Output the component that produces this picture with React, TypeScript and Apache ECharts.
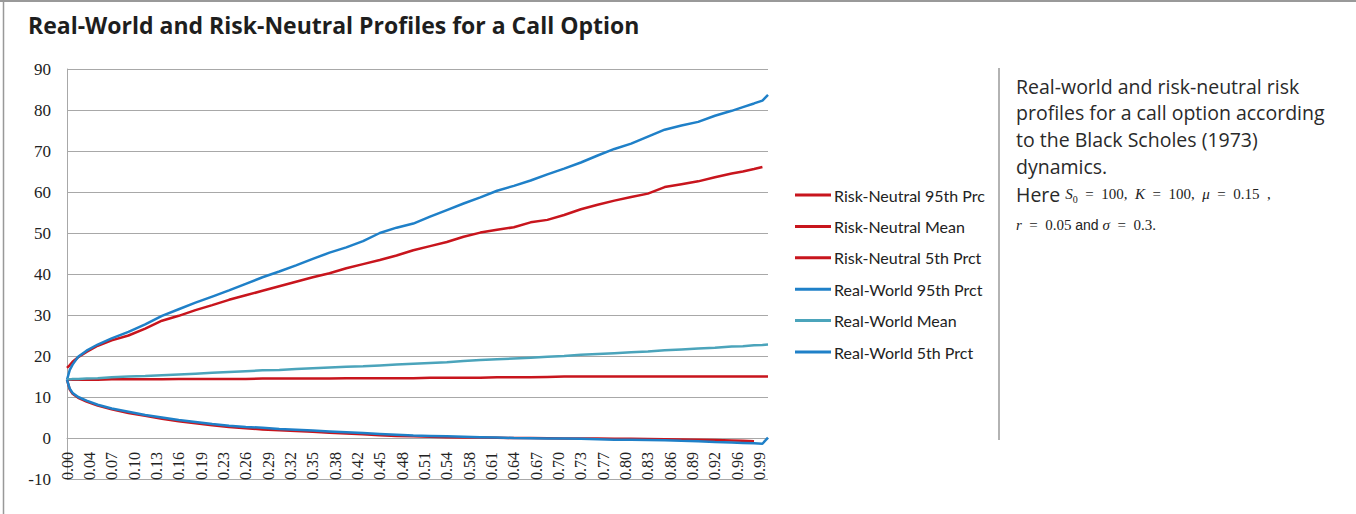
import React, { useEffect, useRef } from "react";
import * as echarts from "echarts";

// Time grid: one category per trading day over a one-year horizon
const TRADING_DAYS = 252;
const TIME_CATEGORIES: string[] = Array.from({ length: TRADING_DAYS }, (_, i) =>
  ((i + 1) / TRADING_DAYS).toFixed(2)
);

// Sampled day indices (into TIME_CATEGORIES) for the profiles below
const STEPS = [
  0, 1, 2, 4, 7, 11, 16, 22, 28, 34, 40, 46, 52, 58, 64, 70, 76, 82, 88, 94, 100, 106, 112, 118,
  124, 130, 136, 142, 148, 154, 160, 166, 172, 178, 184, 190, 196, 202, 208, 214, 220, 226, 232,
  238, 242, 246, 249, 251,
];

const RN_95: (number | null)[] = [
  17.1, 17.8, 18.6, 19.7, 21.0, 22.5, 23.8, 25.0, 26.7, 28.6, 29.8, 31.2, 32.4, 33.7, 34.8, 35.9,
  37.0, 38.1, 39.2, 40.2, 41.4, 42.4, 43.4, 44.5, 45.8, 46.8, 47.8, 49.1, 50.1, 50.8, 51.4, 52.6,
  53.2, 54.4, 55.8, 56.9, 57.9, 58.8, 59.6, 61.2, 61.9, 62.6, 63.6, 64.5, 65.0, 65.6, 66.1, null,
];
const RN_MEAN: (number | null)[] = [
  14.2, 14.2, 14.2, 14.2, 14.2, 14.2, 14.3, 14.3, 14.3, 14.3, 14.4, 14.4, 14.4, 14.4, 14.4, 14.5,
  14.5, 14.5, 14.5, 14.5, 14.6, 14.6, 14.6, 14.6, 14.6, 14.7, 14.7, 14.7, 14.7, 14.8, 14.8, 14.8,
  14.9, 15.0, 15.0, 15.0, 15.0, 15.0, 15.0, 15.0, 15.0, 15.0, 15.0, 15.0, 15.0, 15.0, 15.0, 15.0,
];
const RN_5: (number | null)[] = [
  14.2, 11.8, 10.8, 9.8, 8.9, 7.9, 7.0, 6.1, 5.4, 4.7, 4.1, 3.6, 3.1, 2.7, 2.4, 2.1, 1.9, 1.7, 1.5,
  1.3, 1.1, 0.9, 0.7, 0.5, 0.4, 0.3, 0.2, 0.15, 0.1, 0.05, 0.0, 0.0, -0.05, -0.1, -0.1, -0.15,
  -0.2, -0.2, -0.25, -0.3, -0.35, -0.4, -0.5, -0.6, -0.7, -0.8, null, null,
];
const RW_95: (number | null)[] = [
  14.2, 16.6, 17.9, 19.8, 21.3, 22.8, 24.3, 25.9, 27.7, 29.8, 31.4, 33.0, 34.5, 36.0, 37.6, 39.2,
  40.6, 42.1, 43.7, 45.2, 46.5, 48.0, 50.0, 51.3, 52.3, 54.0, 55.6, 57.2, 58.7, 60.3, 61.5, 62.8,
  64.3, 65.7, 67.2, 68.9, 70.5, 71.8, 73.5, 75.2, 76.2, 77.1, 78.6, 79.8, 80.7, 81.6, 82.3, 83.7,
];
const RW_MEAN: (number | null)[] = [
  14.3, 14.3, 14.4, 14.4, 14.5, 14.6, 14.8, 15.0, 15.1, 15.3, 15.5, 15.7, 15.9, 16.1, 16.3, 16.5,
  16.6, 16.8, 17.0, 17.2, 17.4, 17.5, 17.7, 17.9, 18.1, 18.3, 18.5, 18.8, 19.0, 19.2, 19.4, 19.6,
  19.8, 20.0, 20.3, 20.5, 20.7, 20.9, 21.1, 21.4, 21.6, 21.8, 22.0, 22.3, 22.4, 22.6, 22.7, 22.8,
];
const RW_5: (number | null)[] = [
  14.2, 12.0, 11.0, 10.0, 9.1, 8.1, 7.2, 6.4, 5.6, 5.0, 4.4, 3.9, 3.4, 3.0, 2.7, 2.5, 2.2, 2.0,
  1.8, 1.6, 1.4, 1.2, 1.0, 0.8, 0.6, 0.5, 0.4, 0.3, 0.2, 0.1, 0.0, -0.05, -0.1, -0.15, -0.2, -0.3,
  -0.4, -0.45, -0.5, -0.55, -0.7, -0.8, -1.0, -1.1, -1.2, -1.3, -1.4, 0.1,
];

const SERIES_NAMES = [
  "Risk-Neutral 95th Prc",
  "Risk-Neutral Mean",
  "Risk-Neutral 5th Prct",
  "Real-World 95th Prct",
  "Real-World Mean",
  "Real-World 5th Prct",
];

const Y_MIN = -10;
const Y_MAX = 90;
const Y_STEP = 10;

const TITLE = "Real-World and Risk-Neutral Profiles for a Call Option";
const NOTE_LINES = [
  "Real-world and risk-neutral risk",
  "profiles for a call option according",
  "to the Black Scholes (1973)",
  "dynamics.",
];

const RED = "#c8151d";
const BLUE = "#1f80c8";
const TEAL = "#4ba4bb";
const GRID_GRAY = "#a8a8a8";
const TEXT = "#222222";

const toPoints = (vals: (number | null)[]) =>
  STEPS.flatMap((s, k) => (vals[k] == null ? [] : [[s, vals[k] as number]]));

export default function App() {
  const ref = useRef<HTMLDivElement>(null);

  useEffect(() => {
    if (!ref.current) return;
    const chart = echarts.init(ref.current, undefined, { renderer: "svg" });

    const seriesData = [RN_95, RN_MEAN, RN_5, RW_95, RW_MEAN, RW_5];
    const colors = [RED, RED, RED, BLUE, TEAL, BLUE];

    const serif = "'Liberation Serif', 'DejaVu Serif', serif";
    const sans = "'Open Sans', Roboto, sans-serif";

    const noteTexts = NOTE_LINES.map((line, i) => ({
      type: "text",
      x: 1016,
      y: 86 + i * 26.8,
      style: { text: line, font: `19.5px ${sans}`, fill: "#2a2a2a", verticalAlign: "middle" },
    }));

    chart.setOption({
      animation: false,
      backgroundColor: "#ffffff",
      title: {
        text: TITLE,
        left: 23,
        top: 8,
        textStyle: { fontFamily: sans, fontWeight: "bold", fontSize: 23, color: "#1e1e1e" },
      },
      grid: { left: 67, top: 69, width: 701, height: 410, containLabel: false },
      legend: {
        orient: "vertical",
        left: 795,
        top: 187,
        padding: 0,
        icon: "rect",
        itemWidth: 36,
        itemHeight: 3,
        itemGap: 15.4,
        data: SERIES_NAMES,
        selectedMode: false,
        textStyle: {
          fontFamily: "Lato, 'Noto Sans', sans-serif",
          fontSize: 16,
          color: TEXT,
          lineHeight: 16,
          padding: [0, 0, 0, -2],
        },
      },
      xAxis: {
        type: "category",
        data: TIME_CATEGORIES,
        boundaryGap: false,
        // the category axis sits on the zero line, 10 units above the plot floor
        offset: -41,
        axisLine: { onZero: false, lineStyle: { color: GRID_GRAY, width: 1 } },
        axisTick: { show: false },
        axisLabel: {
          interval: 7,
          rotate: 90,
          margin: 14,
          fontFamily: serif,
          fontSize: 16,
          color: TEXT,
        },
        splitLine: { show: false },
      },
      yAxis: {
        type: "value",
        min: Y_MIN,
        max: Y_MAX,
        interval: Y_STEP,
        axisLine: { show: true, lineStyle: { color: GRID_GRAY, width: 1 } },
        axisTick: { show: false },
        axisLabel: { margin: 16, fontFamily: serif, fontSize: 17, color: TEXT },
        splitLine: { show: true, lineStyle: { color: GRID_GRAY, width: 1 } },
      },
      series: SERIES_NAMES.map((name, i) => ({
        name,
        type: "line",
        data: toPoints(seriesData[i]),
        showSymbol: false,
        symbol: "none",
        color: colors[i],
        itemStyle: { color: colors[i] },
        lineStyle: { color: colors[i], width: 2.5 },
        emphasis: { disabled: true },
      })),
      graphic: [
        // outer frame (top and left edges)
        { type: "line", shape: { x1: 0, y1: 1, x2: 1356, y2: 1 }, style: { stroke: "#999", lineWidth: 2 } },
        { type: "line", shape: { x1: 3.5, y1: 0, x2: 3.5, y2: 514 }, style: { stroke: "#999", lineWidth: 1.5 } },
        // separator between chart and note
        { type: "line", shape: { x1: 999, y1: 68, x2: 999, y2: 440 }, style: { stroke: "#9a9a9a", lineWidth: 1.5 } },
        ...noteTexts,
        {
          type: "text",
          x: 1016,
          y: 194,
          style: {
            text: "{s|Here }{m|S}{sub|0}{n|  =  100,  }{m|K}{n|  =  100,  }{m|μ}{n|  =  0.15  ,}",
            verticalAlign: "middle",
            rich: {
              s: { font: `19.5px ${sans}`, fill: "#2a2a2a" },
              m: { font: `italic 15px ${serif}`, fill: TEXT },
              sub: { font: `10px ${serif}`, fill: TEXT, verticalAlign: "bottom" },
              n: { font: `15px ${serif}`, fill: TEXT },
            },
          },
        },
        {
          type: "text",
          x: 1016,
          y: 225,
          style: {
            text: "{m|r}{n|  =  0.05 }{a|and }{m|σ}{n|  =  0.3.}",
            verticalAlign: "middle",
            rich: {
              m: { font: `italic 15px ${serif}`, fill: TEXT },
              n: { font: `15px ${serif}`, fill: TEXT },
              a: { font: `14px 'Liberation Sans', Arial, sans-serif`, fill: TEXT },
            },
          },
        },
      ],
    });

    return () => chart.dispose();
  }, []);

  return (
    <div
      ref={ref}
      style={{ position: "absolute", left: 0, top: 0, width: 1356, height: 514, background: "#fff" }}
    />
  );
}
